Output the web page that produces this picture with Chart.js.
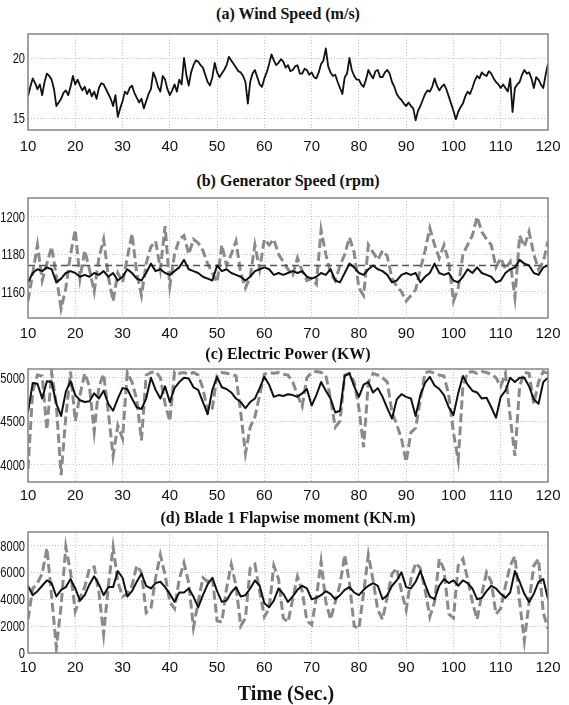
<!DOCTYPE html>
<html>
<head>
<meta charset="utf-8">
<script src="https://cdn.jsdelivr.net/npm/chart.js@4.4.1/dist/chart.umd.min.js"></script>
<style>
  body{margin:0;background:#fff}
  #page{position:relative;width:569px;height:705px;overflow:hidden;background:#fff}
  .title{position:absolute;left:0;width:576px;text-align:center;font:bold 16px "Liberation Serif",serif;color:#111;line-height:20px;white-space:nowrap}
  .box{position:absolute;left:0;width:569px}
</style>
</head>
<body>
<div id="page">
  <div class="title" style="top:4px">(a) Wind Speed (m/s)</div>
  <div class="box" style="top:24px;height:136px"><canvas id="windChart"></canvas></div>

  <div class="title" style="top:171px">(b) Generator Speed (rpm)</div>
  <div class="box" style="top:188px;height:160px"><canvas id="genChart"></canvas></div>

  <div class="title" style="top:344px">(c) Electric Power (KW)</div>
  <div class="box" style="top:359px;height:153px"><canvas id="powerChart"></canvas></div>

  <div class="title" style="top:508px">(d) Blade 1 Flapwise moment (KN.m)</div>
  <div class="box" style="top:522px;height:161px"><canvas id="momentChart"></canvas></div>

  <div class="title" style="top:682px;font-size:20px;line-height:22px;width:572px">Time (Sec.)</div>
</div>
<script>
// tick labels
const timeTicks = [10,20,30,40,50,60,70,80,90,100,110,120];
const windTicks = [15,20];
const genTicks = [1160,1180,1200];
const powerTicks = [4000,4500,5000];
const momentTicks = [0,2000,4000,6000,8000];

// rated generator speed (dashed reference)
const refGenSpeed = 1174;

// wind speed, every 0.5 s from 10 s to 120 s
const windSpeed = [
  16.8,17.6, 18.3,17.9, 17.4,17.8, 16.9,18.0, 18.7,18.5, 18.2,17.4, 16.0,16.3, 16.6,17.1, 17.3,16.9, 17.6,18.5,
  17.8,18.2, 17.7,17.3, 17.6,17.0, 17.4,16.8, 17.2,16.6, 17.5,17.9, 17.8,17.4, 17.0,16.6, 16.0,16.9, 15.1,15.8,
  16.4,17.2, 17.0,17.5, 17.7,17.1, 16.7,16.3, 16.6,15.8, 16.4,17.0, 17.4,18.8, 18.3,17.6, 17.2,18.5, 18.2,17.4,
  16.9,17.3, 17.8,17.2, 18.2,17.8, 20.0,18.6, 17.7,18.8, 19.4,19.8, 19.7,19.4, 19.2,18.6, 18.0,17.7, 18.4,19.6,
  18.8,18.4, 18.7,19.0, 19.4,20.1, 19.8,19.5, 19.2,18.9, 18.8,18.5, 18.0,16.2, 18.0,18.7, 19.0,18.4, 17.8,17.6,
  18.3,18.8, 19.5,20.3, 19.8,19.4, 19.6,19.9, 19.7,19.2, 19.4,18.9, 19.0,19.3, 19.4,18.7, 18.7,19.1, 19.0,18.6,
  18.8,18.4, 18.3,18.8, 19.5,19.8, 20.8,19.3, 18.8,18.5, 18.6,18.0, 17.5,17.0, 18.4,18.7, 20.0,19.0, 18.5,18.2,
  18.2,17.8, 17.6,18.2, 19.0,18.6, 18.3,18.9, 19.0,18.4, 18.4,18.8, 19.0,18.7, 18.0,17.6, 17.0,16.7, 16.5,16.2,
  16.0,16.3, 16.0,15.8, 14.8,15.6, 16.0,16.5, 17.0,17.3, 17.2,17.6, 18.3,17.7, 17.3,17.6, 17.8,17.4, 16.8,16.2,
  15.6,14.9, 15.5,15.9, 16.2,16.8, 17.2,17.0, 17.5,18.1, 18.5,18.3, 18.8,18.6, 18.5,18.9, 18.7,18.3, 18.0,17.8,
  17.5,17.8, 17.5,17.2, 18.3,15.5, 17.5,17.8, 18.0,18.6, 19.0,18.7, 18.8,18.3, 17.5,18.4, 18.2,17.8, 17.5,18.6,
  19.5
];

// the rest every 1 s from 10 s to 120 s
const genSpeedNew = [
  1165,1170,1172,1171,1173,1172,1165,1167,1170,1171,
  1170,1168,1169,1168,1170,1169,1171,1168,1170,1166,
  1168,1172,1170,1167,1166,1170,1175,1171,1172,1170,
  1169,1171,1173,1177,1172,1171,1170,1168,1167,1166,
  1174,1171,1172,1170,1169,1168,1166,1168,1171,1172,
  1173,1172,1169,1170,1169,1170,1171,1170,1171,1168,
  1167,1168,1170,1169,1172,1166,1165,1170,1175,1173,
  1170,1169,1172,1174,1172,1171,1169,1165,1166,1169,
  1170,1169,1170,1165,1168,1170,1175,1170,1169,1170,
  1166,1165,1168,1172,1170,1173,1170,1169,1168,1165,
  1166,1170,1172,1173,1177,1175,1174,1170,1169,1173,
  1174
];
const genSpeedBase = [
  1155,1170,1185,1166,1175,1184,1168,1151,1162,1180,
  1193,1167,1182,1172,1160,1178,1188,1168,1155,1170,
  1165,1178,1191,1170,1158,1175,1184,1187,1172,1195,
  1163,1180,1188,1190,1180,1188,1186,1182,1175,1170,
  1165,1185,1174,1180,1187,1170,1162,1168,1185,1172,
  1188,1185,1188,1180,1176,1172,1169,1178,1171,1166,
  1167,1164,1193,1180,1170,1166,1174,1180,1189,1181,
  1162,1158,1185,1181,1177,1182,1179,1167,1163,1160,
  1155,1158,1161,1172,1182,1194,1185,1178,1185,1176,
  1155,1162,1180,1185,1190,1200,1192,1188,1185,1173,
  1178,1172,1176,1157,1190,1184,1192,1180,1172,1176,
  1187
];
const powerNew = [
  4600,4940,4930,4760,4960,4950,4700,4560,4840,4960,
  4800,4740,4720,4730,4820,4760,4850,4700,4620,4760,
  4880,4870,4760,4660,4640,4760,5000,4860,4760,4900,
  4720,4880,4950,5000,4990,4890,4860,4720,4580,4860,
  5010,4890,4870,4830,4760,4720,4650,4720,4760,4880,
  5010,4920,4780,4800,4790,4810,4800,4780,4820,4870,
  4680,4800,4950,4850,4760,4600,4620,5020,5050,4900,
  4780,4920,4950,4830,4880,4780,4650,4530,4750,4810,
  4780,4760,4560,4800,4940,5010,4910,4870,4800,4660,
  4570,4820,5020,4920,4850,4830,4760,4770,4660,4540,
  4780,4850,5000,4950,5000,5000,4900,4750,4700,4950,
  5000
];
const powerBase = [
  3950,4850,5030,5020,4400,5060,4680,3880,4550,5070,
  4500,4800,5050,4900,4380,4900,5040,4600,4100,4450,
  4300,5060,4950,4750,4280,5030,5060,5070,5000,4700,
  4500,5070,5050,5060,5040,5060,5030,4880,4600,4650,
  5030,5060,5050,5040,5020,4600,4130,4430,4550,4800,
  5040,5060,5050,5060,5040,5030,4950,4800,4670,5000,
  5060,5070,5060,5030,4760,4430,4500,5030,5050,4950,
  4650,4200,4950,5050,5030,5000,4950,4600,4460,4300,
  4030,4370,4420,4750,5060,5070,5050,5030,5020,4800,
  4370,4050,4900,5060,5070,5050,5070,5060,5040,5000,
  4900,5050,4550,4100,4900,5060,5050,4700,4950,5070,
  5050
];
const momentNew = [
  5000,4300,4600,5000,5400,5200,4200,4700,4900,5500,
  4800,3900,4300,5100,5700,5100,4300,4900,4900,6100,
  5600,4200,4600,5300,5900,5000,4800,5200,5300,4900,
  4400,3800,4500,4500,4800,4200,3400,4300,5100,5600,
  4600,3800,3900,4500,4900,4200,4300,4800,5400,5000,
  3700,3400,3900,4800,4400,3800,4200,4700,5000,4800,
  4000,4100,4300,4600,4400,4000,4300,4700,4900,4500,
  4300,4700,5000,5200,5000,4000,4300,5000,5400,6000,
  4900,4800,5300,6100,5100,4200,4000,5000,5500,5200,
  5400,5000,5400,5200,4800,4000,4100,4600,5000,4800,
  4400,4100,4500,6100,5300,4400,3800,4400,5300,5500,
  4000
];
const momentBase = [
  2500,4800,5200,5900,7800,4200,400,3500,7900,6000,
  3100,4100,4900,6300,6400,4500,1400,5000,7900,5300,
  4200,4400,5000,6500,6000,3000,3300,5600,7300,5800,
  3800,3300,5500,6700,5200,1900,3800,5600,5300,5600,
  2400,2300,4800,6600,5000,2000,2600,6300,6600,4600,
  2700,3300,6500,5500,2600,2300,4000,5700,4600,2400,
  2100,4100,6800,3800,2500,3800,5100,7300,5200,2000,
  1800,4500,7300,5400,3200,2500,4200,5900,6300,4600,
  3200,5500,6700,6300,4700,2700,3800,7000,6200,2900,
  2600,6500,7000,5500,3800,2500,4400,6000,5300,2900,
  3300,5000,6500,7200,3800,900,3800,6500,7000,3000,
  1800
];

const fineTime = windSpeed.map((v, i) => 10 + i * 0.5);
const coarseTime = genSpeedNew.map((v, i) => 10 + i);

const tickFont = {family: '"Liberation Sans", Arial, sans-serif', size: 15};

// box round the plot area + narrow y labels
const framePlugin = {
  id: 'frame',
  afterDatasetsDraw(chart) {
    const a = chart.chartArea, ctx = chart.ctx;
    ctx.save();
    ctx.strokeStyle = '#858585';
    ctx.lineWidth = 1.5;
    ctx.strokeRect(a.left, a.top, a.right - a.left, a.bottom - a.top);
    ctx.restore();
  },
  afterDraw(chart) {
    const ys = chart.scales.y, ctx = chart.ctx;
    ctx.save();
    ctx.font = '15px "Liberation Sans", Arial, sans-serif';
    ctx.fillStyle = '#111';
    ctx.textAlign = 'right';
    ctx.textBaseline = 'middle';
    ys.ticks.forEach(t => {
      ctx.save();
      ctx.translate(ys.right - 3, ys.getPixelForValue(t.value) + 1);
      ctx.scale(0.74, 1);
      ctx.fillText(String(t.value), 0, 0);
      ctx.restore();
    });
    ctx.restore();
  }
};

function blackLine(data, w) {
  return {data: data, borderColor: '#111', borderWidth: w || 2, pointRadius: 0, tension: 0, borderJoinStyle: 'round', order: 1};
}
function grayDash(data) {
  return {data: data, borderColor: '#8a8a8a', borderWidth: 3, borderDash: [9, 4], pointRadius: 0, tension: 0, order: 3};
}

function panel(id, labels, datasets, yMin, yMax, yTicks, xPad) {
  new Chart(document.getElementById(id), {
    type: 'line',
    data: {labels: labels, datasets: datasets},
    plugins: [framePlugin],
    options: {
      responsive: true,
      maintainAspectRatio: false,
      animation: false,
      events: [],
      layout: {padding: {top: 10, right: 21, left: 0, bottom: 0}},
      plugins: {legend: {display: false}, tooltip: {enabled: false}},
      scales: {
        x: {
          type: 'linear', min: 10, max: 120,
          afterBuildTicks: s => { s.ticks = timeTicks.map(v => ({value: v})); },
          afterFit: s => { s.height = 30; },
          grid: {color: '#c4c4c4', lineWidth: 1, drawTicks: false},
          border: {display: false, dash: [1, 2]},
          ticks: {font: tickFont, color: '#111', padding: xPad, maxRotation: 0, autoSkip: false}
        },
        y: {
          min: yMin, max: yMax,
          afterBuildTicks: s => { s.ticks = yTicks.map(v => ({value: v})); },
          afterFit: s => { s.width = 28; },
          grid: {color: '#c4c4c4', lineWidth: 1, drawTicks: false},
          border: {display: false, dash: [1, 2]},
          ticks: {display: false}
        }
      }
    }
  });
}

panel('windChart', fineTime, [blackLine(windSpeed, 1.8)], 14, 22, windTicks, 8);
panel('genChart', coarseTime, [
  blackLine(genSpeedNew),
  {data: [{x: 10, y: refGenSpeed}, {x: 120, y: refGenSpeed}], borderColor: '#555', borderWidth: 1.5, borderDash: [7, 4], pointRadius: 0, order: 2},
  grayDash(genSpeedBase)
], 1146, 1210, genTicks, 7);
panel('powerChart', coarseTime, [blackLine(powerNew), grayDash(powerBase)], 3800, 5100, powerTicks, 5);
panel('momentChart', coarseTime, [blackLine(momentNew), grayDash(momentBase)], 0, 9000, momentTicks, 6);
</script>
</body>
</html>
